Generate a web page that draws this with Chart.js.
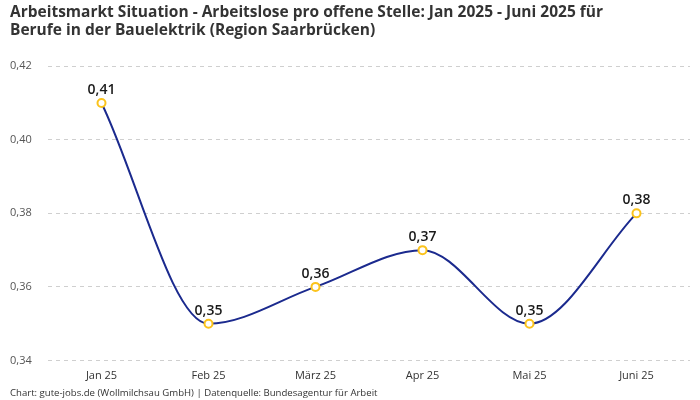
<!DOCTYPE html>
<html>
<head>
<meta charset="utf-8">
<script src="https://cdn.jsdelivr.net/npm/chart.js@4/dist/chart.umd.min.js"></script>
<style>
    html, body { margin: 0; padding: 0; background: #fff; }
    #wrap { width: 700px; height: 400px; }
</style>
</head>
<body>
<div id="wrap"><canvas id="chart"></canvas></div>
<script>
// --- Data ---
const months = ['Jan 25', 'Feb 25', 'März 25', 'Apr 25', 'Mai 25', 'Juni 25'];
const ratios = [0.41, 0.35, 0.36, 0.37, 0.35, 0.38];
const yTicks = [0.34, 0.36, 0.38, 0.40, 0.42];

const fontFamily = "'Open Sans', 'Noto Sans', sans-serif";
const fmt = v => v.toFixed(2).replace('.', ',');

// --- value labels above the points ---
const pointLabels = {
    id: 'pointLabels',
    afterDatasetsDraw(chart) {
        const ctx = chart.ctx;
        const meta = chart.getDatasetMeta(0);
        ctx.save();
        ctx.font = `600 14px ${fontFamily}`;
        ctx.fillStyle = '#1a1a1a';
        ctx.textAlign = 'center';
        ctx.textBaseline = 'bottom';
        meta.data.forEach((pt, i) => {
            ctx.fillText(fmt(ratios[i]), pt.x, pt.y - 6);
        });
        ctx.restore();
    }
};

new Chart(document.getElementById('chart'), {
    type: 'line',
    data: {
        labels: months,
        datasets: [{
            data: ratios,
            borderColor: '#1b2a8e',
            borderWidth: 2,
            cubicInterpolationMode: 'monotone',
            pointRadius: 4,
            pointBorderWidth: 2,
            pointBackgroundColor: '#fff',
            pointBorderColor: '#fbc31c',
            fill: false
        }]
    },
    options: {
        responsive: true,
        maintainAspectRatio: false,
        animation: false,
        layout: { padding: { left: 10, right: 10, top: 0, bottom: 0 } },
        scales: {
            x: {
                offset: true,
                grid: { display: false, drawTicks: false },
                border: { display: false },
                afterFit: axis => { axis.height = 27; },
                ticks: { color: '#333', font: { family: fontFamily, size: 11 }, padding: 9 }
            },
            y: {
                min: 0.34,
                max: 0.42,
                afterBuildTicks: axis => { axis.ticks = yTicks.map(v => ({ value: v })); },
                afterFit: axis => { axis.width = 38; },
                border: { display: false, dash: [4, 4] },
                grid: { color: '#cfcfcf', drawTicks: false },
                ticks: {
                    color: '#555',
                    crossAlign: 'far',
                    font: { family: fontFamily, size: 11 },
                    padding: 12,
                    callback: v => fmt(v)
                }
            }
        },
        plugins: {
            legend: { display: false },
            tooltip: { enabled: false },
            title: {
                display: true,
                align: 'start',
                text: ['Arbeitsmarkt Situation - Arbeitslose pro offene Stelle: Jan 2025 - Juni 2025 für',
                       'Berufe in der Bauelektrik (Region Saarbrücken)'],
                color: '#333',
                font: { family: fontFamily, size: 15.5, weight: 'bold', lineHeight: 1.2 },
                padding: { top: 3, bottom: 26 }
            },
            subtitle: {
                display: true,
                position: 'bottom',
                align: 'start',
                text: 'Chart: gute-jobs.de (Wollmilchsau GmbH) | Datenquelle: Bundesagentur für Arbeit',
                color: '#333',
                font: { family: fontFamily, size: 9.6 },
                padding: { top: 0, bottom: 1 }
            }
        }
    },
    plugins: [pointLabels]
});
</script>
</body>
</html>
